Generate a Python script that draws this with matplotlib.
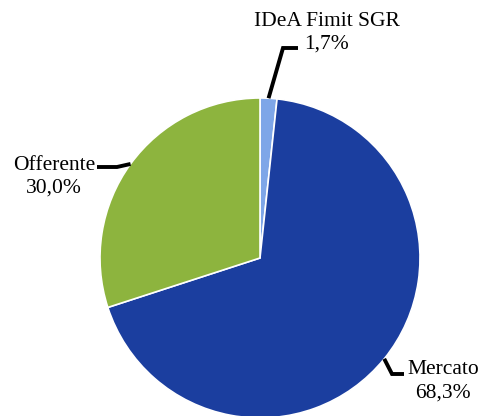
import numpy as np
import matplotlib
matplotlib.use('Agg')
import matplotlib.pyplot as plt

# data
labels = ['IDeA Fimit SGR', 'Mercato', 'Offerente']
values = [1.7, 68.3, 30.0]
pct_text = ['1,7%', '68,3%', '30,0%']
colors = ['#7ea6e8', '#1b3e9f', '#8db43e']

W, H = 483, 416
CX, CY, R = 260, H - 258, 160

plt.rcParams['font.family'] = ['Liberation Serif', 'DejaVu Serif']

fig = plt.figure(figsize=(W / 100, H / 100), dpi=100)
ax = fig.add_axes([0, 0, 1, 1])

wedges, _ = ax.pie(values, colors=colors, startangle=90, counterclock=False,
                   center=(CX, CY), radius=R,
                   wedgeprops=dict(edgecolor='white', linewidth=1.2))

ax.set_xlim(0, W)
ax.set_ylim(0, H)
ax.set_aspect('equal')
ax.axis('off')

# label layout: (elbow point, line end, text x, first line y) in pixel coords
layout = {
    'IDeA Fimit SGR': ((283, 48), (298, 48), 327, 21),
    'Mercato': ((392, 374), (404, 374), 443, 370),
    'Offerente': ((117, 167), (97, 167), 54, 165),
}

for w, lab, pct in zip(wedges, labels, pct_text):
    mid = np.deg2rad((w.theta1 + w.theta2) / 2)
    ex = CX + R * np.cos(mid)
    ey = CY + R * np.sin(mid)
    (bx, by), (lx, ly), tx, ty = layout[lab]
    ax.plot([ex, bx, lx], [ey, H - by, H - ly], color='black', lw=2.8,
            solid_capstyle='butt', solid_joinstyle='miter')
    ax.text(tx, H - ty, lab, ha='center', va='center', fontsize=15.5)
    ax.text(tx, H - ty - 23, pct, ha='center', va='center', fontsize=15.5)

fig.savefig('out.png', dpi=100)
